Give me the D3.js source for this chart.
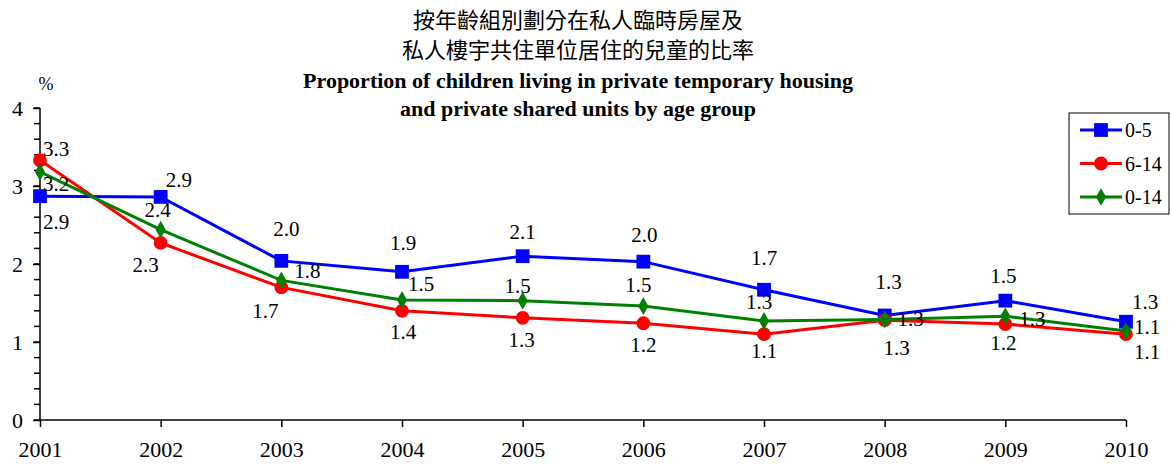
<!DOCTYPE html>
<html>
<head>
<meta charset="utf-8">
<script src="https://cdn.jsdelivr.net/npm/d3@7"></script>
<style>
  body { margin: 0; background: #fff; }
  svg text { font-family: "Liberation Serif", "Times New Roman", serif; fill: #000; }
</style>
</head>
<body>
<svg id="chart" width="1171" height="464"></svg>
<script>
// data
var years = [2001, 2002, 2003, 2004, 2005, 2006, 2007, 2008, 2009, 2010];
var age0to5  = [2.87, 2.86, 2.04, 1.90, 2.10, 2.03, 1.67, 1.34, 1.53, 1.26];
var age6to14 = [3.33, 2.27, 1.70, 1.40, 1.31, 1.24, 1.10, 1.28, 1.23, 1.10];
var age0to14 = [3.18, 2.44, 1.79, 1.54, 1.53, 1.46, 1.27, 1.29, 1.33, 1.14];
var seriesNames = ["0-5", "6-14", "0-14"];
var yTicks = [0, 1, 2, 3, 4];

// label placement per point: [dx, dy, anchor]
var labelPlace = {
  "0-5":  [[3, 26, "start"], [5, -17, "start"], [5, -32, "middle"], [1, -29, "middle"], [0, -25, "middle"],
           [1, -27, "middle"], [0, -32, "middle"], [4, -34, "middle"], [-2, -25, "middle"], [19, -20, "middle"]],
  "6-14": [[3, -12, "start"], [-15, 22, "middle"], [-16, 23, "middle"], [1, 21, "middle"], [-1, 22, "middle"],
           [0, 21, "middle"], [0, 16, "middle"], [12, 27, "middle"], [-2, 19, "middle"], [21, 17, "middle"]],
  "0-14": [[3, 12, "start"], [-3, -20, "middle"], [26, -10, "middle"], [19, -16, "middle"], [-5, -15, "middle"],
           [-5, -21, "middle"], [-5, -19, "middle"], [26, -1, "middle"], [27, 2, "middle"], [21, -4, "middle"]]
};

var series = [
  { name: seriesNames[0], values: age0to5,  color: "#0000ff", marker: d3.symbolSquare,  size: 190 },
  { name: seriesNames[1], values: age6to14, color: "#ff0000", marker: d3.symbolCircle,  size: 150 },
  { name: seriesNames[2], values: age0to14, color: "#008000", marker: d3.symbolDiamond, size: 90 }
];

var svg = d3.select("svg#chart");

var x = d3.scalePoint().domain(years).range([40, 1126]);
var y = d3.scaleLinear().domain([0, 4]).range([420, 108]);

// titles
var titleX = 578;
svg.append("text").attr("x", titleX).attr("y", 28).attr("text-anchor", "middle")
  .style("font-family", "'Noto Sans CJK TC', sans-serif").style("font-size", "22px")
  .text("按年齡組別劃分在私人臨時房屋及");
svg.append("text").attr("x", titleX).attr("y", 58).attr("text-anchor", "middle")
  .style("font-family", "'Noto Sans CJK TC', sans-serif").style("font-size", "22px")
  .text("私人樓宇共住單位居住的兒童的比率");
svg.append("text").attr("x", titleX).attr("y", 88).attr("text-anchor", "middle")
  .style("font-size", "22px").style("font-weight", "bold")
  .text("Proportion of children living in private temporary housing");
svg.append("text").attr("x", titleX).attr("y", 116).attr("text-anchor", "middle")
  .style("font-size", "22px").style("font-weight", "bold")
  .text("and private shared units by age group");

// y axis
var yAxis = d3.axisLeft(y).tickValues(yTicks).tickSize(7).tickPadding(10).tickFormat(d3.format("d"));
var gy = svg.append("g").attr("transform", "translate(40,0)").call(yAxis);
gy.select(".domain").attr("stroke", "#000").attr("stroke-width", 1.5).attr("d", "M0," + y(4) + "V" + y(0));
gy.selectAll(".tick line").attr("stroke", "#000").attr("stroke-width", 1.5);
gy.selectAll(".tick text").style("font-size", "22px");

var minor = d3.range(0, 4.001, 0.2);
svg.append("g").selectAll("line").data(minor).join("line")
  .attr("x1", 34).attr("x2", 40)
  .attr("y1", d => y(d)).attr("y2", d => y(d))
  .attr("stroke", "#000").attr("stroke-width", 1.5);

svg.append("text").attr("x", 46).attr("y", 90).attr("text-anchor", "middle")
  .style("font-size", "18px").text("%");

// x axis
var xAxis = d3.axisBottom(x).tickSize(7).tickPadding(14).tickSizeOuter(0);
var gx = svg.append("g").attr("transform", "translate(0," + y(0) + ")").call(xAxis);
gx.select(".domain").attr("stroke", "#000").attr("stroke-width", 1.5).attr("d", "M40,0H1126");
gx.selectAll(".tick line").attr("stroke", "#000").attr("stroke-width", 1.5);
gx.selectAll(".tick text").style("font-size", "22px");

// lines and markers
var line = d3.line().x((d, i) => x(years[i])).y(d => y(d));
var fmt = d3.format(".1f");

series.forEach(function (s) {
  svg.append("path").datum(s.values)
    .attr("d", line).attr("fill", "none")
    .attr("stroke", s.color).attr("stroke-width", 3);
  svg.append("g").selectAll("path").data(s.values).join("path")
    .attr("d", d3.symbol().type(s.marker).size(s.size))
    .attr("transform", (d, i) => "translate(" + x(years[i]) + "," + y(d) + ")")
    .attr("fill", s.color);
});

series.forEach(function (s) {
  var place = labelPlace[s.name];
  svg.append("g").selectAll("text").data(s.values).join("text")
    .attr("x", (d, i) => x(years[i]) + place[i][0])
    .attr("y", (d, i) => y(d) + place[i][1])
    .attr("dy", "0.35em")
    .attr("text-anchor", (d, i) => place[i][2])
    .style("font-size", "21px")
    .text(d => fmt(d));
});

// legend
var legend = svg.append("g").attr("transform", "translate(1069,113)");
legend.append("rect").attr("width", 100).attr("height", 101)
  .attr("fill", "#fff").attr("stroke", "#000").attr("stroke-width", 1);
series.forEach(function (s, i) {
  var cy = 17 + i * 33.5;
  legend.append("line").attr("x1", 11).attr("x2", 53).attr("y1", cy).attr("y2", cy)
    .attr("stroke", s.color).attr("stroke-width", 3);
  legend.append("path").attr("d", d3.symbol().type(s.marker).size(s.size))
    .attr("transform", "translate(32," + cy + ")").attr("fill", s.color);
  legend.append("text").attr("x", 56).attr("y", cy).attr("dy", "0.35em")
    .style("font-size", "20px").text(s.name);
});
</script>
</body>
</html>
